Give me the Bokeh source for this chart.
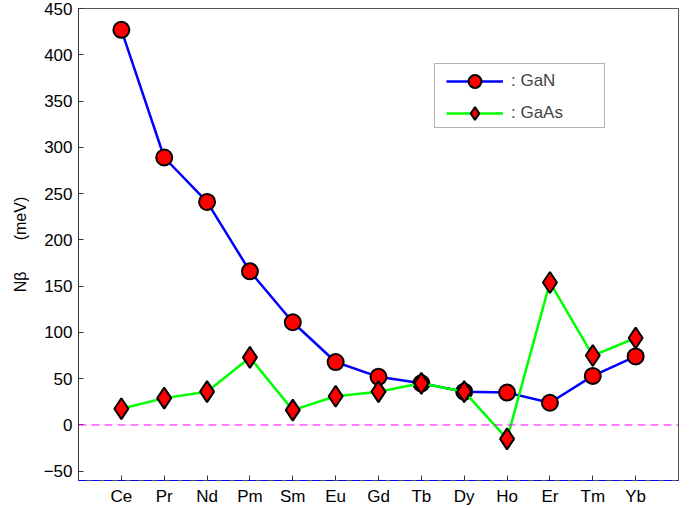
from bokeh.plotting import figure
from bokeh.models import (Range1d, FixedTicker, Span, Legend, LegendItem,
                          BoxAnnotation, ColumnDataSource)
from bokeh.embed import file_html
from bokeh.resources import INLINE

elements = ["Ce", "Pr", "Nd", "Pm", "Sm", "Eu", "Gd", "Tb", "Dy", "Ho", "Er", "Tm", "Yb"]
positions = list(range(1, len(elements) + 1))
gan = [427, 289, 241, 166, 111, 68, 52, 45, 36, 35, 24, 53, 74]
gaas = [17.5, 29, 36, 73, 16, 31, 36, 45, 36, -15, 154, 75, 94]
y_ticks = [-50, 0, 50, 100, 150, 200, 250, 300, 350, 400, 450]

src = ColumnDataSource(dict(x=positions, gan=gan, gaas=gaas))

p = figure(width=690, height=508, output_backend="svg", toolbar_location=None,
           x_range=Range1d(0, 14), y_range=Range1d(-60, 450),
           min_border_left=78, min_border_right=12, min_border_top=8, min_border_bottom=28)
p.xgrid.visible = False
p.ygrid.visible = False
p.outline_line_color = "#555555"
p.outline_line_width = 1
p.background_fill_color = "white"
p.border_fill_color = "white"

font = "Liberation Sans"
for ax in (p.xaxis[0], p.yaxis[0]):
    ax.axis_line_color = "#333333"
    ax.major_tick_line_color = "#333333"
    ax.major_tick_in = 5
    ax.major_tick_out = 0
    ax.minor_tick_line_color = None
    ax.major_label_text_font = font
    ax.major_label_text_font_size = "17px"
    ax.major_label_text_color = "black"
    ax.major_label_standoff = 6

# bottom axis line shows a blue dashed line on top of the grey frame
p.xaxis.axis_line_color = "#0000ff"
p.xaxis.axis_line_dash = "8 5"
p.xaxis.axis_line_width = 1

p.xaxis.ticker = FixedTicker(ticks=positions)
p.xaxis.major_label_overrides = {pos: name for pos, name in zip(positions, elements)}
p.yaxis.ticker = FixedTicker(ticks=y_ticks)
p.yaxis.major_label_overrides = {-50: "\u221250"}
p.yaxis.axis_label = "N\u03b2" + "\u00a0" * 7 + "(meV)"
p.yaxis.axis_label_text_font = font
p.yaxis.axis_label_text_font_size = "16px"
p.yaxis.axis_label_text_font_style = "normal"
p.yaxis.axis_label_text_color = "black"
p.yaxis.axis_label_standoff = 12

p.add_layout(Span(location=0, dimension="width", line_color="#ff00ff",
                  line_dash="8 5", line_width=1))

l1 = p.line("x", "gan", source=src, line_color="#0000ff", line_width=2.5)
m1 = p.scatter("x", "gan", source=src, marker="circle", size=16,
               fill_color="#ff0000", line_color="black", line_width=2)
l2 = p.line("x", "gaas", source=src, line_color="#00ff00", line_width=2.5)
m2 = p.scatter("x", "gaas", source=src, marker="diamond", size=21,
               fill_color="#ff0000", line_color="black", line_width=2)

p.add_layout(BoxAnnotation(left=356, right=526, bottom=353, top=417,
                           left_units="screen", right_units="screen",
                           bottom_units="screen", top_units="screen",
                           fill_alpha=0, line_color="black", line_width=1))

legend = Legend(items=[LegendItem(label=": GaN", renderers=[l1, m1]),
                       LegendItem(label=": GaAs", renderers=[l2, m2])],
                location=(368, 351), padding=0, margin=0, spacing=0,
                glyph_width=57, glyph_height=32, label_height=32,
                label_standoff=8, label_text_font=font,
                label_text_font_size="17px", border_line_color=None,
                background_fill_alpha=0)
p.add_layout(legend)

open("out.html", "w").write(file_html(p, INLINE))
